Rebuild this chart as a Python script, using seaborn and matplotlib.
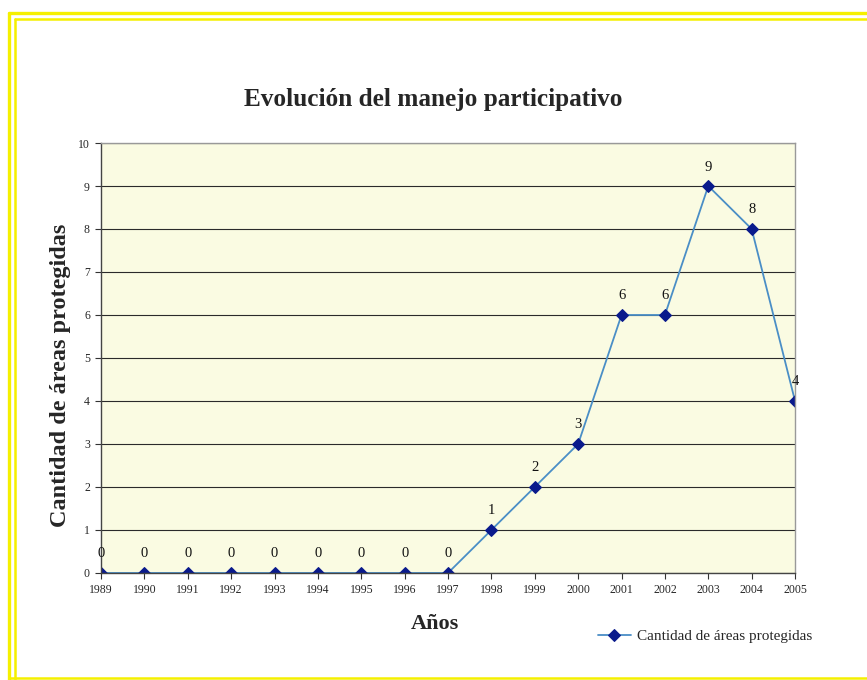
import numpy as np
import pandas as pd
import matplotlib.pyplot as plt
import seaborn as sns
from matplotlib.lines import Line2D

years = [1989, 1990, 1991, 1992, 1993, 1994, 1995, 1996, 1997,
         1998, 1999, 2000, 2001, 2002, 2003, 2004, 2005]
areas = [0, 0, 0, 0, 0, 0, 0, 0, 0, 1, 2, 3, 6, 6, 9, 8, 4]
series_name = "Cantidad de áreas protegidas"

df = pd.DataFrame({"Año": years, "Cantidad": areas})

sns.set_style("white")
plt.rcParams['font.family'] = ['Liberation Serif', 'DejaVu Serif']

W, H = 867, 680
fig = plt.figure(figsize=(W / 100, H / 100), dpi=100)
ax = fig.add_axes([0.1165, 0.1574, 0.8005, 0.6323])

# double yellow frame (pixel coords -> figure coords)
def frame_line(xs, ys, lw):
    fig.lines.append(Line2D([x / W for x in xs], [1 - y / H for y in ys],
                            transform=fig.transFigure, color="#F5F000", linewidth=lw))

frame_line([9, 867], [13, 13], 2.4)
frame_line([15, 867], [19, 19], 1.8)
frame_line([9, 9], [13, 680], 2.4)
frame_line([15, 15], [19, 680], 1.8)
frame_line([9, 867], [678, 678], 1.8)

ax.set_facecolor("#FAFBE2")
sns.lineplot(data=df, x="Año", y="Cantidad", ax=ax, color="#4A8EC6",
             linewidth=1.3, marker="D", markersize=6,
             markerfacecolor="#0A1A8C", markeredgecolor="#0A1A8C",
             label=series_name)

for x, y in zip(years, areas):
    ax.annotate(str(y), (x, y), xytext=(0, 9), textcoords="offset points",
                ha="center", va="bottom", fontsize=10.5, color="#111111")

ax.set_xlim(1989, 2005)
ax.set_ylim(0, 10)
ax.set_xticks(years)
ax.set_yticks(range(0, 11))
ax.tick_params(axis="both", labelsize=8.5, length=4, direction="out",
               left=True, bottom=True, color="#333333", pad=4)
ax.yaxis.grid(True, color="#2A2A2A", linewidth=0.8)
ax.xaxis.grid(False)
for side in ["left", "bottom"]:
    ax.spines[side].set_color("#444444")
    ax.spines[side].set_linewidth(1.0)
for side in ["top", "right"]:
    ax.spines[side].set_color("#999999")
    ax.spines[side].set_linewidth(1.0)

ax.set_xlabel("Años", fontsize=16, fontweight="bold")
ax.xaxis.set_label_coords(0.481, -0.095)
ax.set_ylabel("Cantidad de áreas protegidas", fontsize=17.5, fontweight="bold")
ax.yaxis.set_label_coords(-0.043, 0.46)
fig.text(0.5, 0.853, "Evolución del manejo participativo", ha="center",
         va="center", fontsize=18.2, fontweight="bold")

leg = ax.legend(loc="upper right", bbox_to_anchor=(1.045, -0.1), frameon=False,
                fontsize=11, handlelength=2.2, handletextpad=0.4)

fig.savefig("out.png", dpi=100)
